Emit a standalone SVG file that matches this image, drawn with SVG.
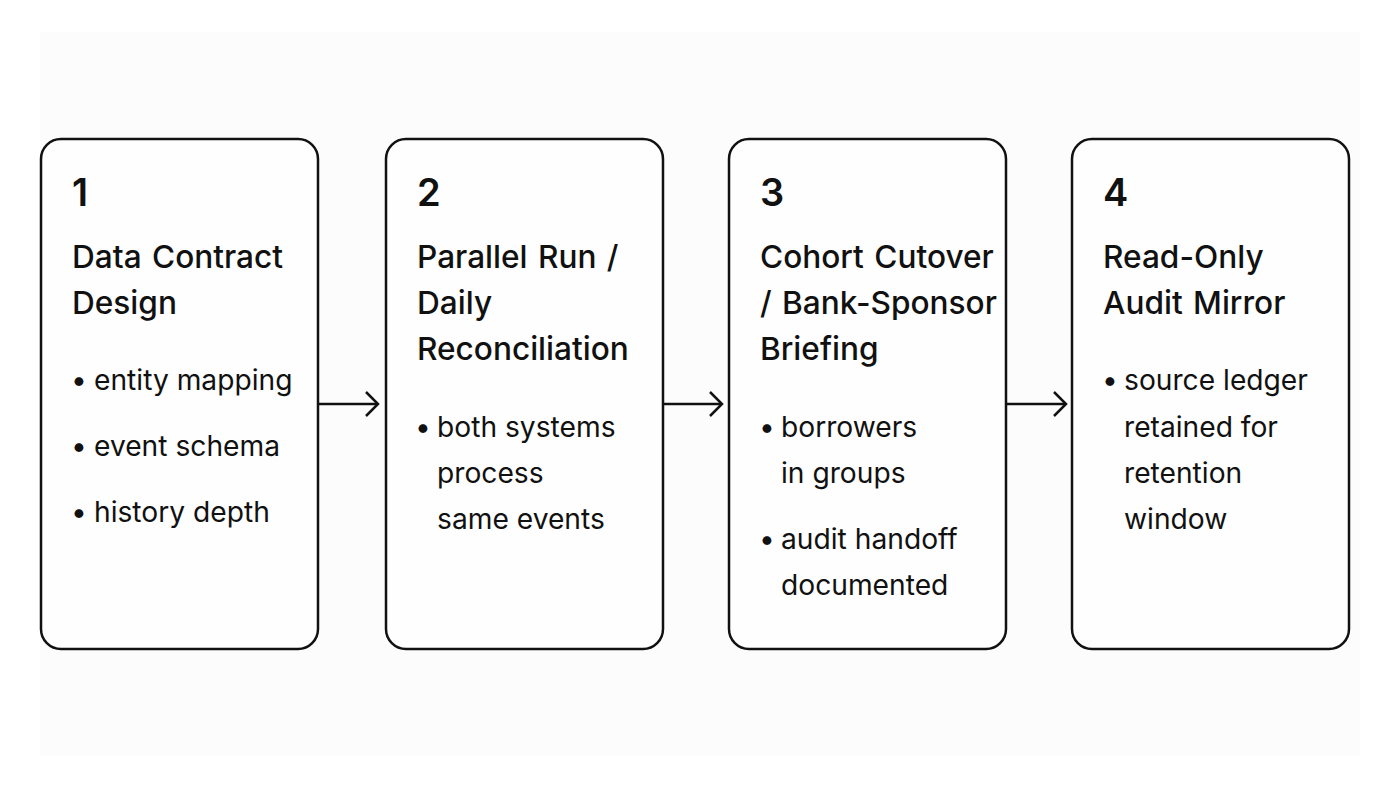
<svg xmlns="http://www.w3.org/2000/svg" width="1400" height="788" viewBox="0 0 1400 788">
  <defs>
    <style>
      .box { fill: #fefefe; stroke: #111; stroke-width: 2.5; }
      .num { font-family: Inter, "Liberation Sans", sans-serif; font-size: 38px; font-weight: 600; fill: #111; }
      .title { font-family: Inter, "Liberation Sans", sans-serif; font-size: 31.6px; font-weight: 500; fill: #111; word-spacing: 2px; }
      .item { font-family: Inter, "Liberation Sans", sans-serif; font-size: 28.2px; font-weight: 400; fill: #111; }
      .conn { stroke: #111; stroke-width: 2.5; fill: none; }
    </style>
    <marker id="arrow" markerWidth="16" markerHeight="26" refX="14" refY="13" orient="auto" markerUnits="userSpaceOnUse">
      <path d="M2,1 L14,13 L2,25" fill="none" stroke="#111" stroke-width="2.5"/>
    </marker>
  </defs>
  <rect x="0" y="0" width="1400" height="788" fill="#ffffff"/>
  <rect x="40" y="32" width="1320" height="724" fill="#fcfcfc"/>

  <g id="node1">
    <rect class="box" x="41" y="139" width="277" height="510" rx="20"/>
    <text class="num" x="72" y="206">1</text>
    <text class="title" x="72" y="268">Data Contract</text>
    <text class="title" x="72" y="314">Design</text>
    <text class="item" x="71" y="390">•</text>
    <text class="item" x="94" y="390">entity mapping</text>
    <text class="item" x="71" y="456">•</text>
    <text class="item" x="94" y="456">event schema</text>
    <text class="item" x="71" y="522">•</text>
    <text class="item" x="94" y="522">history depth</text>
  </g>

  <g id="node2">
    <rect class="box" x="386" y="139" width="277" height="510" rx="20"/>
    <text class="num" x="417" y="206">2</text>
    <text class="title" x="417" y="268">Parallel Run /</text>
    <text class="title" x="417" y="314">Daily</text>
    <text class="title" x="417" y="360">Reconciliation</text>
    <text class="item" x="415" y="437">•</text>
    <text class="item" x="437" y="437">both systems</text>
    <text class="item" x="437" y="483">process</text>
    <text class="item" x="437" y="529">same events</text>
  </g>

  <g id="node3">
    <rect class="box" x="729" y="139" width="277" height="510" rx="20"/>
    <text class="num" x="760" y="206">3</text>
    <text class="title" x="760" y="268">Cohort Cutover</text>
    <text class="title" x="760" y="314">/ Bank-Sponsor</text>
    <text class="title" x="760" y="360">Briefing</text>
    <text class="item" x="759" y="437">•</text>
    <text class="item" x="781" y="437">borrowers</text>
    <text class="item" x="781" y="483">in groups</text>
    <text class="item" x="759" y="549">•</text>
    <text class="item" x="781" y="549">audit handoff</text>
    <text class="item" x="781" y="595">documented</text>
  </g>

  <g id="node4">
    <rect class="box" x="1072" y="139" width="277" height="510" rx="20"/>
    <text class="num" x="1103" y="206">4</text>
    <text class="title" x="1103" y="268">Read-Only</text>
    <text class="title" x="1103" y="314">Audit Mirror</text>
    <text class="item" x="1102" y="390">•</text>
    <text class="item" x="1124" y="390">source ledger</text>
    <text class="item" x="1124" y="437">retained for</text>
    <text class="item" x="1124" y="483">retention</text>
    <text class="item" x="1124" y="529">window</text>
  </g>

  <g id="connectors">
    <line class="conn" x1="319" y1="404" x2="378" y2="404" marker-end="url(#arrow)"/>
    <line class="conn" x1="664" y1="404" x2="722" y2="404" marker-end="url(#arrow)"/>
    <line class="conn" x1="1007" y1="404" x2="1066" y2="404" marker-end="url(#arrow)"/>
  </g>
</svg>
